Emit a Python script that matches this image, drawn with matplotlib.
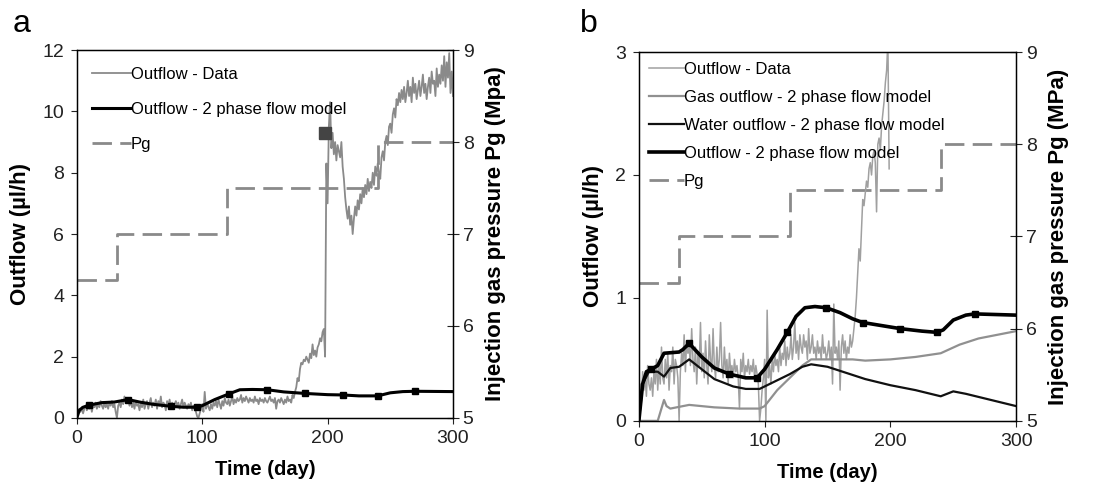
import numpy as np
import matplotlib
matplotlib.use('Agg')
import matplotlib.pyplot as plt

plt.rcParams['font.family'] = ['Liberation Sans', 'DejaVu Sans']

# ---- panel a data ----
days_a = np.arange(0, 301)
data_a = [
    0.1, 0.25, 0.3, 0.2, 0.35, 0.15, 0.3, 0.4, 0.25, 0.35,
    0.3, 0.45, 0.2, 0.4, 0.35, 0.5, 0.3, 0.45, 0.35, 0.55,
    0.4, 0.3, 0.5, 0.35, 0.45, 0.3, 0.5, 0.4, 0.55, 0.35,
    0.45, 0.2, 0.0, 0.4, 0.5, 0.35, 0.6, 0.45, 0.7, 0.5,
    0.55, 0.65, 0.4, 0.6, 0.35, 0.5, 0.3, 0.55, 0.4, 0.45,
    0.25, 0.5, 0.35, 0.6, 0.3, 0.45, 0.55, 0.3, 0.5, 0.65,
    0.35, 0.5, 0.4, 0.6, 0.3, 0.55, 0.4, 0.7, 0.35, 0.5,
    0.45, 0.25, 0.55, 0.4, 0.6, 0.35, 0.5, 0.3, 0.45, 0.55,
    0.4, 0.5, 0.3, 0.45, 0.6, 0.35, 0.5, 0.4, 0.3, 0.45,
    0.35, 0.5, 0.25, 0.4, 0.3, 0.2, 0.05, 0.0, 0.15, 0.3,
    0.45, 0.2, 0.85, 0.3, 0.5, 0.35, 0.25, 0.45, 0.3, 0.5,
    0.4, 0.55, 0.35, 0.6, 0.45, 0.3, 0.55, 0.4, 0.65, 0.5,
    0.45, 0.6, 0.4, 0.55, 0.7, 0.45, 0.6, 0.5, 0.65, 0.55,
    0.6, 0.75, 0.5, 0.65, 0.55, 0.7, 0.6, 0.5, 0.65, 0.55,
    0.6, 0.5, 0.7, 0.55, 0.6, 0.45, 0.65, 0.55, 0.6, 0.5,
    0.65, 0.55, 0.5, 0.6, 0.7, 0.55, 0.6, 0.5, 0.65, 0.3,
    0.55, 0.6, 0.5, 0.65, 0.55, 0.45, 0.6, 0.5, 0.7, 0.55,
    0.6, 0.5, 0.75, 0.65, 0.85, 1.0, 1.3, 1.2, 1.6, 1.8,
    1.75, 1.9, 1.85, 2.0, 1.9, 1.8, 2.1, 1.95, 2.4, 2.05,
    2.2, 2.0, 2.3, 2.4, 2.6, 2.5, 2.8, 2.9, 2.0, 8.3,
    7.0, 9.5, 10.3, 8.8, 9.3, 8.6, 9.0, 8.4, 8.9, 8.7,
    8.5, 9.0, 8.2, 7.8, 7.2, 6.8, 6.5, 6.9, 6.3, 6.6,
    6.0, 6.5, 6.9, 6.6, 7.1, 6.8, 7.3, 7.0, 7.5, 7.2,
    7.6, 7.3, 7.8, 7.4, 7.7, 7.5, 8.0, 7.6, 8.2, 7.9,
    8.3, 8.0, 7.8, 8.5, 8.7, 8.4, 9.0, 9.2, 8.9, 9.5,
    9.6, 9.3, 9.9, 10.1, 9.8, 10.4, 10.2, 10.6, 10.3, 10.7,
    10.4, 10.8, 10.3, 10.6, 11.0, 10.5, 10.8, 10.3, 11.1, 10.6,
    10.9, 10.4, 10.7, 11.0, 10.5, 10.8, 11.2, 10.6, 10.9, 10.4,
    10.8, 11.1, 10.6, 11.3, 10.9, 11.0, 10.5, 11.4, 10.8, 11.2,
    10.9, 11.5, 11.0, 11.8, 10.8, 11.6, 11.1, 11.9, 10.6, 11.3,
    10.5,
]
model_t_a = [0, 2, 5, 10, 20, 30, 41, 50, 60, 75, 85, 96, 100, 110, 121, 130, 140,
             152, 165, 182, 200, 212, 225, 240, 250, 260, 270, 300]
model_v_a = [0, 0.25, 0.35, 0.42, 0.5, 0.52, 0.6, 0.52, 0.45, 0.38, 0.35, 0.35, 0.4,
             0.6, 0.78, 0.92, 0.93, 0.92, 0.85, 0.8, 0.76, 0.75, 0.72, 0.72, 0.82,
             0.86, 0.87, 0.86]
marks_a = [3, 6, 9, 11, 14, 17, 19, 21, 23, 26]
square_t_a = [198]
square_v_a = [9.3]

# ---- panel b data ----
days_b = np.arange(0, 200)
data_b = [
    0.05, 0.3, 0.15, 0.4, 0.25, 0.35, 0.2, 0.45, 0.3, 0.25,
    0.35, 0.2, 0.4, 0.3, 0.5, 0.25, 0.45, 0.3, 0.6, 0.35,
    0.3, 0.5, 0.35, 0.55, 0.25, 0.45, 0.4, 0.6, 0.3, 0.5,
    0.45, 0.35, 0.0, 0.4, 0.55, 0.45, 0.7, 0.4, 0.65, 0.55,
    0.6, 0.45, 0.75, 0.5, 0.4, 0.6, 0.3, 0.55, 0.45, 0.8,
    0.4, 0.55, 0.35, 0.65, 0.45, 0.3, 0.7, 0.5, 0.4, 0.75,
    0.45, 0.35, 0.6, 0.4, 0.5, 0.8, 0.45, 0.35, 0.6, 0.4,
    0.5, 0.3, 0.55, 0.4, 0.45, 0.35, 0.5, 0.4, 0.45, 0.35,
    0.1, 0.5, 0.4, 0.55, 0.35, 0.45, 0.4, 0.5, 0.38, 0.45,
    0.4, 0.5, 0.35, 0.45, 0.38, 0.3, 0.0, 0.1, 0.25, 0.35,
    0.5, 0.0, 0.9, 0.35, 0.45, 0.3, 0.5, 0.4, 0.55, 0.45,
    0.5, 0.4, 0.6, 0.45, 0.55, 0.5, 0.65, 0.45, 0.6, 0.5,
    0.55, 0.7, 0.5, 0.6, 0.8, 0.55, 0.65, 0.5, 0.7, 0.6,
    0.55, 0.7, 0.6, 0.65, 0.5, 0.75, 0.55, 0.6, 0.7, 0.55,
    0.6, 0.5, 0.65, 0.55, 0.6, 0.5, 0.7, 0.55, 0.6, 0.5,
    0.55, 0.65, 0.5, 0.6, 0.3, 0.95, 0.55, 0.6, 0.5, 0.65,
    0.25, 0.6, 0.7, 0.55, 0.65, 0.5, 0.6, 0.55, 0.7, 0.6,
    0.65, 0.75, 0.85, 1.0, 1.2, 1.4, 1.3, 1.55, 1.8, 1.75,
    1.85, 1.95, 1.9, 2.05, 2.1, 2.0, 2.15, 2.2, 2.1, 1.7,
    2.25, 2.3, 2.2, 2.4, 2.5, 2.6, 2.75, 2.85, 3.1, 2.05,
]
gas_t = [0, 15, 20, 22, 25, 40, 60, 80, 96, 100, 110, 120, 130, 137, 170, 180,
         200, 220, 240, 255, 270, 300]
gas_v = [0, 0, 0.17, 0.12, 0.1, 0.13, 0.11, 0.1, 0.1, 0.12, 0.25, 0.35, 0.45, 0.5,
         0.5, 0.49, 0.5, 0.52, 0.55, 0.62, 0.67, 0.73]
water_t = [0, 3, 8, 15, 20, 25, 32, 40, 50, 60, 75, 85, 96, 110, 120, 130, 137, 150,
           165, 180, 200, 220, 240, 250, 260, 280, 300]
water_v = [0, 0.3, 0.4, 0.4, 0.36, 0.43, 0.44, 0.5, 0.42, 0.34, 0.28, 0.26, 0.26,
           0.33, 0.38, 0.44, 0.46, 0.44, 0.39, 0.34, 0.29, 0.25, 0.2, 0.24, 0.22,
           0.17, 0.12]
model_t_b = [0, 3, 6, 10, 15, 20, 32, 35, 40, 50, 60, 72, 85, 94, 100, 110, 118, 125,
             132, 140, 149, 160, 170, 178, 190, 208, 225, 237, 242, 250, 260, 267, 300]
model_v_b = [0, 0.3, 0.4, 0.42, 0.45, 0.55, 0.56, 0.58, 0.63, 0.52, 0.43, 0.38, 0.35,
             0.35, 0.42, 0.58, 0.72, 0.85, 0.92, 0.93, 0.92, 0.88, 0.83, 0.8, 0.78,
             0.75, 0.73, 0.72, 0.74, 0.82, 0.86, 0.87, 0.86]
marks_b = [3, 8, 11, 13, 16, 20, 23, 25, 27, 31]

# ---- gas pressure steps (both panels) ----
pg_t = [0, 32, 32, 120, 120, 240, 240, 300]
pg_v = [6.5, 6.5, 7.0, 7.0, 7.5, 7.5, 8.0, 8.0]

fig = plt.figure(figsize=(11.13, 4.86), dpi=100)
ax_a = fig.add_axes([0.069, 0.140, 0.338, 0.757])
ax_b = fig.add_axes([0.574, 0.134, 0.339, 0.759])

dash = (0, (7, 3))
grey = '#8a8a8a'


def style(ax, ax2, yticks, rlabel):
    ax.set_xlim(0, 300)
    ax.set_xticks([0, 100, 200, 300])
    ax.set_yticks(yticks)
    ax.set_ylim(yticks[0], yticks[-1])
    ax2.set_ylim(5, 9)
    ax2.set_yticks([5, 6, 7, 8, 9])
    ax.tick_params(labelsize=14, direction='out', length=4, width=0.8,
                   colors='#222222', pad=5)
    ax2.tick_params(labelsize=14, direction='inout', length=8, width=0.8,
                    colors='#222222', pad=3)
    ax.set_xlabel('Time (day)', fontsize=14.5, fontweight='bold', labelpad=9)
    ax.set_ylabel('Outflow (\u00b5l/h)', fontsize=16, fontweight='bold', labelpad=8)
    ax2.set_ylabel(rlabel, fontsize=16, fontweight='bold', labelpad=8)
    for s in ax.spines.values():
        s.set_linewidth(1.0)


def model_marks(ax, t, v, idx, lw):
    ax.plot([t[i] for i in idx], [v[i] for i in idx], 's', color='black', ms=4.5)


# panel a
ax2a = ax_a.twinx()
l1, = ax_a.plot(days_a, data_a, color=grey, lw=1.3, label='Outflow - Data')
l2, = ax_a.plot(model_t_a, model_v_a, color='black', lw=2.2,
                label='Outflow - 2 phase flow model')
model_marks(ax_a, model_t_a, model_v_a, marks_a, 2.2)
ax_a.plot(square_t_a, square_v_a, 's', color='#444444', ms=8)
l3, = ax2a.plot(pg_t, pg_v, color=grey, lw=2, linestyle=dash, label='Pg')
style(ax_a, ax2a, [0, 2, 4, 6, 8, 10, 12], 'Injection gas pressure Pg (Mpa)')
ax_a.legend([l1, l2, l3], [l.get_label() for l in (l1, l2, l3)], loc='upper left',
            frameon=False, fontsize=12, handlelength=2.3, handletextpad=0.0,
            labelspacing=1.2, borderaxespad=0.3, bbox_to_anchor=(0.01, 0.985))
ax_a.set_zorder(ax2a.get_zorder() + 1)
ax_a.patch.set_visible(False)
fig.text(0.011, 0.935, 'a', fontsize=23)

# panel b
ax2b = ax_b.twinx()
m1, = ax_b.plot(days_b, data_b, color='#a0a0a0', lw=1.1, label='Outflow - Data')
m2, = ax_b.plot(gas_t, gas_v, color='#909090', lw=1.6, label='Gas outflow - 2 phase flow model')
m3, = ax_b.plot(water_t, water_v, color='#111111', lw=1.6,
                label='Water outflow - 2 phase flow model')
m4, = ax_b.plot(model_t_b, model_v_b, color='black', lw=2.6,
                label='Outflow - 2 phase flow model')
model_marks(ax_b, model_t_b, model_v_b, marks_b, 2.6)
m5, = ax2b.plot(pg_t, pg_v, color=grey, lw=2, linestyle=dash, label='Pg')
style(ax_b, ax2b, [0, 1, 2, 3], 'Injection gas pressure Pg (MPa)')
hb = [m1, m2, m3, m4, m5]
ax_b.legend(hb, [h.get_label() for h in hb], loc='upper left', frameon=False,
            fontsize=12, handlelength=2.1, handletextpad=0.0, labelspacing=0.78,
            borderaxespad=0.2, bbox_to_anchor=(0.0, 1.0))
ax_b.set_zorder(ax2b.get_zorder() + 1)
ax_b.patch.set_visible(False)
fig.text(0.521, 0.935, 'b', fontsize=23)

fig.savefig('out.png', dpi=100)
